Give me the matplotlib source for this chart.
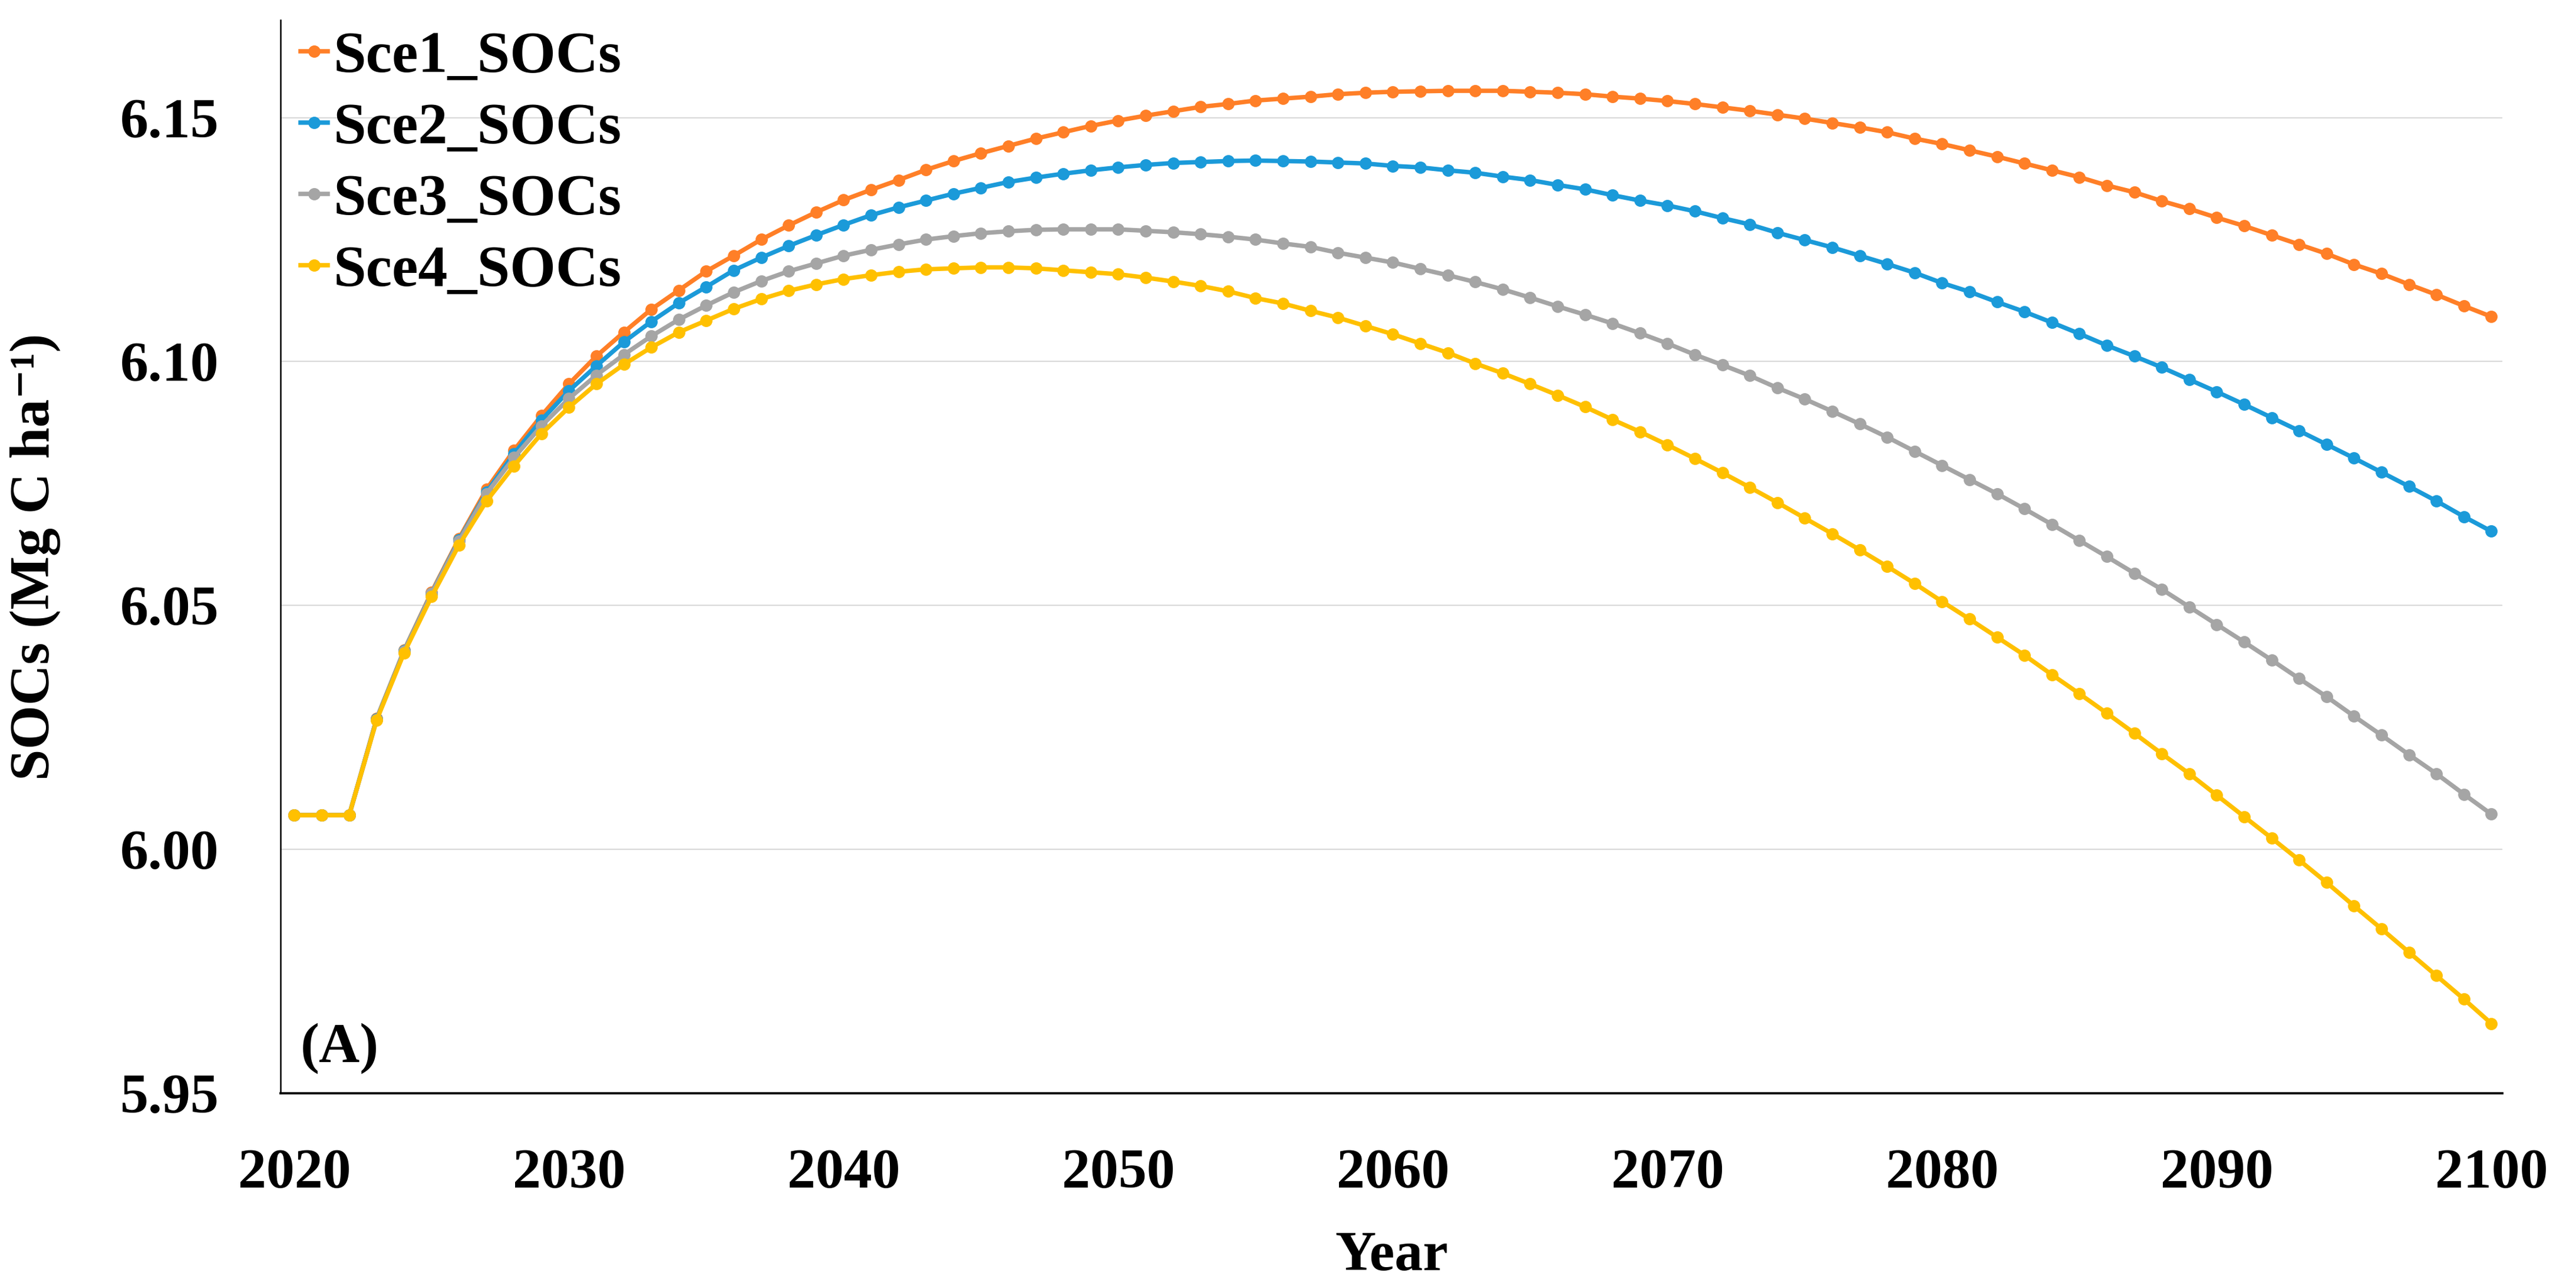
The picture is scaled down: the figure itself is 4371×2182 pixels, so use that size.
import numpy as np
import matplotlib
matplotlib.use('Agg')
import matplotlib.pyplot as plt

# yearly SOC stocks (Mg C / ha), 2020-2100
years = list(range(2020, 2101))

sce1_socs = [
    6.0070, 6.0070, 6.0070, 6.0268, 6.0408, 6.0527, 6.0637, 6.0738, 6.0818, 6.0889,
    6.0954, 6.1011, 6.1060, 6.1107, 6.1146, 6.1185, 6.1217, 6.1250, 6.1279, 6.1306,
    6.1331, 6.1352, 6.1372, 6.1393, 6.1411, 6.1427, 6.1442, 6.1457, 6.1470, 6.1483,
    6.1494, 6.1504, 6.1513, 6.1522, 6.1528, 6.1535, 6.1539, 6.1543, 6.1548, 6.1551,
    6.1553, 6.1554, 6.1555, 6.1555, 6.1555, 6.1553, 6.1551, 6.1548, 6.1543, 6.1539,
    6.1534, 6.1528, 6.1521, 6.1514, 6.1506, 6.1498, 6.1489, 6.1480, 6.1470, 6.1457,
    6.1446, 6.1433, 6.1420, 6.1406, 6.1392, 6.1378, 6.1361, 6.1347, 6.1329, 6.1313,
    6.1295, 6.1278, 6.1259, 6.1240, 6.1221, 6.1199, 6.1180, 6.1158, 6.1137, 6.1114,
    6.1092]

sce2_socs = [
    6.0070, 6.0070, 6.0070, 6.0267, 6.0407, 6.0525, 6.0634, 6.0732, 6.0811, 6.0880,
    6.0940, 6.0991, 6.1040, 6.1082, 6.1120, 6.1153, 6.1187, 6.1213, 6.1237, 6.1259,
    6.1280, 6.1300, 6.1316, 6.1330, 6.1344, 6.1356, 6.1368, 6.1377, 6.1385, 6.1392,
    6.1398, 6.1403, 6.1407, 6.1409, 6.1411, 6.1412, 6.1411, 6.1410, 6.1408, 6.1406,
    6.1401, 6.1398, 6.1392, 6.1387, 6.1379, 6.1372, 6.1362, 6.1353, 6.1341, 6.1330,
    6.1320, 6.1308, 6.1294, 6.1281, 6.1264, 6.1249, 6.1234, 6.1217, 6.1200, 6.1182,
    6.1161, 6.1143, 6.1122, 6.1102, 6.1080, 6.1057, 6.1033, 6.1011, 6.0988, 6.0963,
    6.0938, 6.0912, 6.0885, 6.0858, 6.0830, 6.0802, 6.0773, 6.0744, 6.0714, 6.0682,
    6.0652]

sce3_socs = [
    6.0070, 6.0070, 6.0070, 6.0266, 6.0406, 6.0524, 6.0632, 6.0729, 6.0803, 6.0868,
    6.0924, 6.0972, 6.1014, 6.1052, 6.1086, 6.1115, 6.1142, 6.1165, 6.1185, 6.1201,
    6.1217, 6.1229, 6.1240, 6.1250, 6.1257, 6.1263, 6.1267, 6.1270, 6.1271, 6.1271,
    6.1271, 6.1268, 6.1265, 6.1261, 6.1256, 6.1250, 6.1242, 6.1235, 6.1223, 6.1213,
    6.1203, 6.1190, 6.1177, 6.1163, 6.1148, 6.1131, 6.1113, 6.1096, 6.1078, 6.1058,
    6.1037, 6.1014, 6.0993, 6.0971, 6.0946, 6.0923, 6.0898, 6.0872, 6.0845, 6.0816,
    6.0787, 6.0758, 6.0729, 6.0698, 6.0666, 6.0633, 6.0600, 6.0566, 6.0533, 6.0497,
    6.0461, 6.0425, 6.0388, 6.0350, 6.0313, 6.0273, 6.0234, 6.0194, 6.0155, 6.0113,
    6.0072]

sce4_socs = [
    6.0070, 6.0070, 6.0070, 6.0265, 6.0403, 6.0518, 6.0624, 6.0714, 6.0786, 6.0852,
    6.0906, 6.0954, 6.0994, 6.1029, 6.1060, 6.1084, 6.1108, 6.1128, 6.1145, 6.1158,
    6.1169, 6.1177, 6.1184, 6.1189, 6.1191, 6.1193, 6.1193, 6.1191, 6.1187, 6.1183,
    6.1179, 6.1172, 6.1164, 6.1155, 6.1144, 6.1130, 6.1119, 6.1104, 6.1090, 6.1073,
    6.1056, 6.1037, 6.1018, 6.0996, 6.0976, 6.0954, 6.0931, 6.0907, 6.0881, 6.0856,
    6.0829, 6.0801, 6.0772, 6.0742, 6.0711, 6.0679, 6.0647, 6.0614, 6.0580, 6.0545,
    6.0508, 6.0472, 6.0435, 6.0398, 6.0358, 6.0319, 6.0279, 6.0238, 6.0196, 6.0155,
    6.0111, 6.0067, 6.0023, 5.9978, 5.9932, 5.9884, 5.9837, 5.9789, 5.9741, 5.9693,
    5.9643]

labels = ['Sce1_SOCs', 'Sce2_SOCs', 'Sce3_SOCs', 'Sce4_SOCs']
colors = ['#FF7F27', '#1B9AD9', '#A5A5A5', '#FFC000']
x_ticks = [2020, 2030, 2040, 2050, 2060, 2070, 2080, 2090, 2100]
y_ticks = [5.95, 6.00, 6.05, 6.10, 6.15]

plt.rcParams['font.family'] = ['Liberation Serif', 'DejaVu Serif']
plt.rcParams['font.weight'] = 'bold'
fs = 23

fig = plt.figure(figsize=(4371 / 300, 2182 / 300), dpi=300)
ax = fig.add_axes([0.1089, 0.1499, 0.8625, 0.8345])

for vals, lab, col in zip([sce1_socs, sce2_socs, sce3_socs, sce4_socs], labels, colors):
    ax.plot(years, vals, color=col, lw=1.8, marker='o', ms=4.0, label=lab)

ax.set_xlim(2019.5, 2100.4)
ax.set_ylim(5.95, 6.17)
ax.set_xticks(x_ticks)
ax.set_yticks(y_ticks)
ax.set_yticklabels(['%.2f' % v for v in y_ticks])
ax.tick_params(axis='both', length=0, labelsize=fs)
ax.tick_params(axis='x', pad=22.5)
ax.tick_params(axis='y', pad=25)

ax.grid(axis='y', color='#D9D9D9', lw=0.5)
ax.set_axisbelow(True)
for s in ['top', 'right']:
    ax.spines[s].set_visible(False)
ax.spines['left'].set_linewidth(0.6)
ax.spines['bottom'].set_linewidth(0.9)

ax.set_xlabel('Year', fontsize=fs, fontweight='bold', labelpad=13)
ax.set_ylabel('SOCs (Mg C ha\u207b\u00b9)', fontsize=fs, fontweight='bold')
ax.yaxis.set_label_coords(-0.099, 0.5)

ax.text(0.009, 0.042, '(A)', transform=ax.transAxes, fontsize=fs,
        fontweight='bold', va='center', ha='left')

leg = ax.legend(loc='upper left', bbox_to_anchor=(0.009, 0.99), frameon=False,
                fontsize=24, handlelength=0.46, handletextpad=0.1,
                labelspacing=0.3, borderpad=0, borderaxespad=0)

fig.savefig('out.png', dpi=300)
